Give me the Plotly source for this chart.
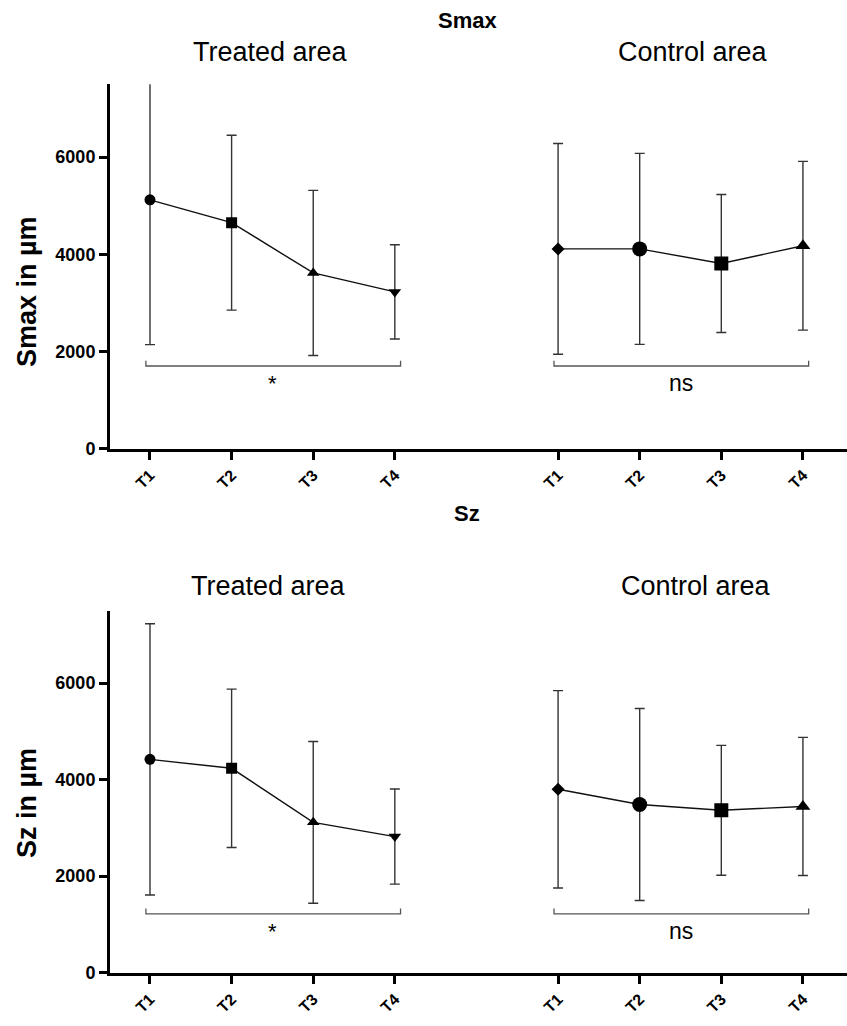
import plotly.graph_objects as go

# ---------------- data ----------------
timepoints = ["T1", "T2", "T3", "T4"]
treated_x = [0, 1, 2, 3]
control_x = [5, 6, 7, 8]

smax_treated_mean = [5120, 4650, 3615, 3225]
smax_treated_sd = [2980, 1800, 1700, 970]
smax_control_mean = [4110, 4110, 3810, 4175]
smax_control_sd = [2170, 1965, 1420, 1737]

sz_treated_mean = [4420, 4235, 3115, 2820]
sz_treated_sd = [2810, 1640, 1675, 985]
sz_control_mean = [3800, 3485, 3365, 3445]
sz_control_sd = [2045, 1990, 1345, 1430]

y_ticks = [0, 2000, 4000, 6000]
bracket_labels = ["*", "ns"]
smax_bracket_y = 1700
sz_bracket_y = 1220

FONT = "Liberation Sans, Arial, sans-serif"
W, H = 847, 1026

fig = go.Figure()

treated_symbols = ["circle", "square", "triangle-up", "triangle-down"]
treated_sizes = [11, 11, 11, 11]
control_symbols = ["diamond", "circle", "square", "triangle-up"]
control_sizes = [10, 15, 14, 13]


def add_series(x, mean, sd, symbols, sizes, xa, ya):
    fig.add_trace(go.Scatter(
        x=x, y=mean, mode="lines+markers",
        line=dict(color="#111111", width=1.4),
        marker=dict(symbol=symbols, size=sizes, color="black", opacity=1,
                    line=dict(width=0)),
        error_y=dict(type="data", array=sd, visible=True, color="#333333",
                     thickness=1.4, width=5),
        xaxis=xa, yaxis=ya, showlegend=False, hoverinfo="x+y",
    ))


add_series(treated_x, smax_treated_mean, smax_treated_sd, treated_symbols, treated_sizes, "x", "y")
add_series(control_x, smax_control_mean, smax_control_sd, control_symbols, control_sizes, "x", "y")
add_series(treated_x, sz_treated_mean, sz_treated_sd, treated_symbols, treated_sizes, "x2", "y2")
add_series(control_x, sz_control_mean, sz_control_sd, control_symbols, control_sizes, "x2", "y2")

x_range = [-0.49, 8.54]
x_dom = [110 / W, 1.0]
top_dom = [1 - 453 / H, 1 - 85 / H]
bot_dom = [1 - 982.3 / H, 1 - 616.7 / H]

xaxis_common = dict(
    range=x_range, domain=x_dom,
    tickvals=treated_x + control_x, ticktext=timepoints + timepoints,
    tickangle=-45, ticks="outside", ticklen=8, tickwidth=2.5, tickcolor="black",
    showline=True, linewidth=3, linecolor="black", showgrid=False, zeroline=False,
    tickfont=dict(family=FONT, size=16, color="black", weight="bold"),
)
yaxis_common = dict(
    range=[0, 7500], tickvals=y_ticks,
    ticks="outside", ticklen=8, tickwidth=2.5, tickcolor="black",
    showline=True, linewidth=3, linecolor="black", showgrid=False, zeroline=False,
    tickfont=dict(family=FONT, size=18, color="black", weight="bold"),
)

fig.update_layout(
    width=W, height=H,
    margin=dict(l=0, r=0, t=0, b=0),
    paper_bgcolor="white", plot_bgcolor="white",
    font=dict(family=FONT, color="black"),
    xaxis=dict(**xaxis_common, anchor="y"),
    yaxis=dict(**yaxis_common, domain=top_dom, anchor="x"),
    xaxis2=dict(**xaxis_common, anchor="y2"),
    yaxis2=dict(**yaxis_common, domain=bot_dom, anchor="x2"),
)

# significance brackets
shapes = []
annotations = []
for xa, ya, by in [("x", "y", smax_bracket_y), ("x2", "y2", sz_bracket_y)]:
    for group, label in zip([treated_x, control_x], bracket_labels):
        x0 = group[0] - 0.05
        x1 = group[-1] + 0.07
        shapes.append(dict(type="path", xref=xa, yref=ya,
                           path=f"M {x0},{by + 110} L {x0},{by} L {x1},{by} L {x1},{by + 110}",
                           line=dict(color="#555555", width=1.3)))
        mid = (group[0] + group[-1]) / 2
        if label == "*":
            annotations.append(dict(x=mid, y=by - 60, xref=xa, yref=ya, text=label,
                                    showarrow=False, yanchor="top",
                                    font=dict(family=FONT, size=22, color="black")))
        else:
            annotations.append(dict(x=mid, y=by - 40, xref=xa, yref=ya, text=label,
                                    showarrow=False, yanchor="top",
                                    font=dict(family=FONT, size=23, color="black")))

# titles
def ann(text, xp, yp, size, bold=False, angle=0):
    annotations.append(dict(x=xp / W, y=1 - yp / H, xref="paper", yref="paper",
                            text=text, showarrow=False, textangle=angle,
                            xanchor="center", yanchor="middle",
                            font=dict(family=FONT, size=size, color="black",
                                      weight="bold" if bold else "normal")))

ann("Smax", 467, 21, 22, bold=True)
ann("Sz", 467, 519, 22, bold=True)
ann("Treated area", 270, 53, 27)
ann("Control area", 693, 53, 27)
ann("Treated area", 268, 592, 27)
ann("Control area", 696, 592, 27)
ann("Smax in µm", 27, 295, 27, bold=True, angle=-90)
ann("Sz in µm", 27, 811, 27, bold=True, angle=-90)

fig.update_layout(shapes=shapes, annotations=annotations)

fig.write_html("out.html", config={"displayModeBar": False},
               post_script="document.body.style.margin='0px';document.body.style.overflow='hidden';")
